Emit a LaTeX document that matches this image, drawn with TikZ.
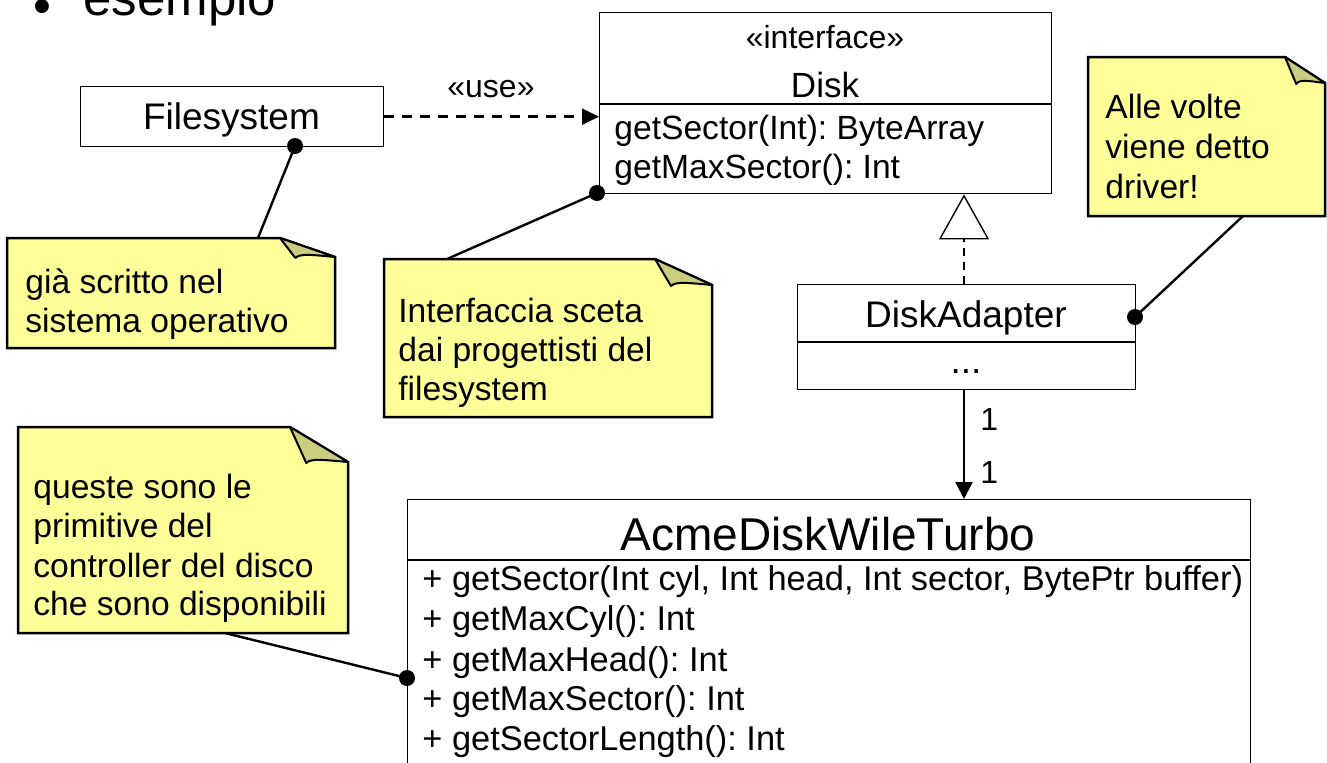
\documentclass[tikz,border=0pt]{standalone}
\usepackage{fontspec}
\setmainfont{Liberation Sans}
\usetikzlibrary{arrows.meta,calc,fit}
\definecolor{notefill}{RGB}{255,255,153}
\definecolor{foldfill}{RGB}{204,204,128}
\frenchspacing

\tikzset{
  boxline/.style={draw=black, line width=0.7pt},
  umlbox/.style={boxline, inner sep=0pt, anchor=north west, fill=white},
  lbl/.style={inner sep=0pt, anchor=base, font=\fontsize{18.5}{22}\selectfont},
  member/.style={inner sep=0pt, anchor=base west, font=\fontsize{16.8}{20}\selectfont},
  acmemember/.style={inner sep=0pt, anchor=base west, font=\fontsize{17.2}{20}\selectfont},
  notetext/.style={inner sep=0pt, anchor=base west, font=\fontsize{16.8}{20}\selectfont},
  notebody/.style={fill=notefill, draw=black, line width=1.25pt, line join=miter},
  notefold/.style={fill=foldfill, draw=black, line width=1.0pt, line join=round},
  anchorline/.style={draw=black, line width=1.2pt},
  dotmark/.style={fill=black},
  mult/.style={inner sep=0pt, anchor=base west, font=\fontsize{16}{20}\selectfont},
}

% note: name, x1, y1, x2, y2, fold x on top edge, fold y on right edge
\newcommand\umlnote[7]{%
  \filldraw[notebody] (#2,#3) -- (#6,#3) -- (#4,#7) -- (#4,#5) -- (#2,#5) -- cycle;
  \filldraw[notefold] (#6,#3) -- ({#6+0.28*(#4-#6)},{#7+1})
    .. controls ({#6+0.36*(#4-#6)},{#7-4}) and ({#6+0.6*(#4-#6)},{#7-2}) .. (#4,#7) -- cycle;
  \node[fit={(#2,#3) (#4,#5)}, inner sep=0pt] (#1) {};
}

\begin{document}
\begin{tikzpicture}[x=0.5pt,y=-0.5pt]
\useasboundingbox (0,0) rectangle (1327,762);
\clip (0,0) rectangle (1327,762);

% slide heading
\node[inner sep=0pt, anchor=base west, font=\fontsize{25.5}{30}\selectfont] (bullet) at (33,23) {•};
\node[inner sep=0pt, anchor=base west, font=\fontsize{25.5}{30}\selectfont] (title) at (83,15) {esempio};

% notes
\umlnote{n1}{7}{238}{335}{348}{280}{257}
\node[notetext] (n1a) at (25,293) {già scritto nel};
\node[notetext] (n1b) at (25,332) {sistema operativo};

\umlnote{n2}{384}{259}{712}{417}{655}{285}
\node[notetext] (n2a) at (398,322) {Interfaccia sceta};
\node[notetext] (n2b) at (398,361) {dai progettisti del};
\node[notetext] (n2c) at (398,400) {filesystem};

\umlnote{n3}{1088}{57}{1325}{216}{1285}{83}
\node[notetext] (n3a) at (1105,118) {Alle volte};
\node[notetext] (n3b) at (1105,158) {viene detto};
\node[notetext] (n3c) at (1105,198) {driver!};

\umlnote{n4}{18}{427}{348}{633}{290}{462}
\node[notetext] (n4a) at (33,498) {queste sono le};
\node[notetext] (n4b) at (33,537) {primitive del};
\node[notetext] (n4c) at (33,577) {controller del disco};
\node[notetext] (n4d) at (33,615) {che sono disponibili};

% Filesystem class
\node[umlbox, minimum width=151.5pt, minimum height=30pt] (fs) at (80,86) {};
\node[lbl] (fsname) at (231.5,129) {Filesystem};

% Disk interface
\node[umlbox, minimum width=226pt, minimum height=90.5pt] (disk) at (599,12) {};
\draw[boxline] (599,104) -- (1051,104);
\node[lbl, font=\fontsize{16}{20}\selectfont] (diskst) at (825,48) {«interface»};
\node[lbl, font=\fontsize{17.5}{20}\selectfont] (diskname) at (825,97) {Disk};
\node[member] (dm1) at (614,139) {getSector(Int): ByteArray};
\node[member] (dm2) at (614,178) {getMaxSector(): Int};

% DiskAdapter class
\node[umlbox, minimum width=169pt, minimum height=52.5pt] (da) at (797,284) {};
\draw[boxline] (797,342) -- (1135,342);
\node[lbl] (daname) at (966,327) {DiskAdapter};
\node[lbl] (daattr) at (966,373) {...};

% AcmeDiskWileTurbo class (runs past the bottom edge)
\node[umlbox, minimum width=421.5pt, minimum height=150.5pt] (acme) at (407,499) {};
\draw[boxline] (407,560) -- (1250,560);
\node[lbl, font=\fontsize{23}{26}\selectfont] (acmename) at (828,550) {AcmeDiskWileTurbo};
\node[acmemember] (am1) at (422,590) {+ getSector(Int cyl, Int head, Int sector, BytePtr buffer)};
\node[acmemember] (am2) at (422,630) {+ getMaxCyl(): Int};
\node[acmemember] (am3) at (422,671) {+ getMaxHead(): Int};
\node[acmemember] (am4) at (422,710) {+ getMaxSector(): Int};
\node[acmemember] (am5) at (422,750) {+ getSectorLength(): Int};

% dependency «use»
\draw[line width=1.25pt, dash pattern=on 5pt off 4pt,
      -{Triangle[length=8.5pt,width=8pt]}] (fs.east) -- (fs.east -| disk.west);
\node[lbl, font=\fontsize{16}{20}\selectfont] (uselbl) at (491,97) {«use»};

% realization DiskAdapter -> Disk
\coordinate (tx) at (964,0);
\draw[line width=0.7pt, dash pattern=on 4pt off 3pt,
      -{Triangle[open, length=22.5pt, width=25pt, line width=0.7pt]}] (da.north -| tx) -- (disk.south -| tx);

% association DiskAdapter -> AcmeDiskWileTurbo
\draw[line width=1.2pt, -{Triangle[length=8.5pt,width=8.5pt]}] (da.south -| tx) -- (acme.north -| tx);
\node[mult] (m1) at (980,430) {1};
\node[mult] (m2) at (980,483) {1};

% note anchors
\coordinate (fsdot) at (295,146);
\coordinate (n1top) at (258,238);
\coordinate (diskdot) at (597,193);
\coordinate (n2top) at (447,259);
\coordinate (dadot) at (1135,317);
\coordinate (n3bot) at (1243,216);
\coordinate (acmedot) at (407,678);
\coordinate (n4bot) at (225,633);

\draw[anchorline] (fsdot) -- (n1top);
\draw[anchorline] (diskdot) -- (n2top);
\draw[anchorline] (n3bot) -- (dadot);
\draw[anchorline] (n4bot) -- (acmedot);

\fill[dotmark] (fsdot) circle[radius=4pt];
\fill[dotmark] (diskdot) circle[radius=4pt];
\fill[dotmark] (dadot) circle[radius=4pt];
\fill[dotmark] (acmedot) circle[radius=4pt];
\end{tikzpicture}
\end{document}
